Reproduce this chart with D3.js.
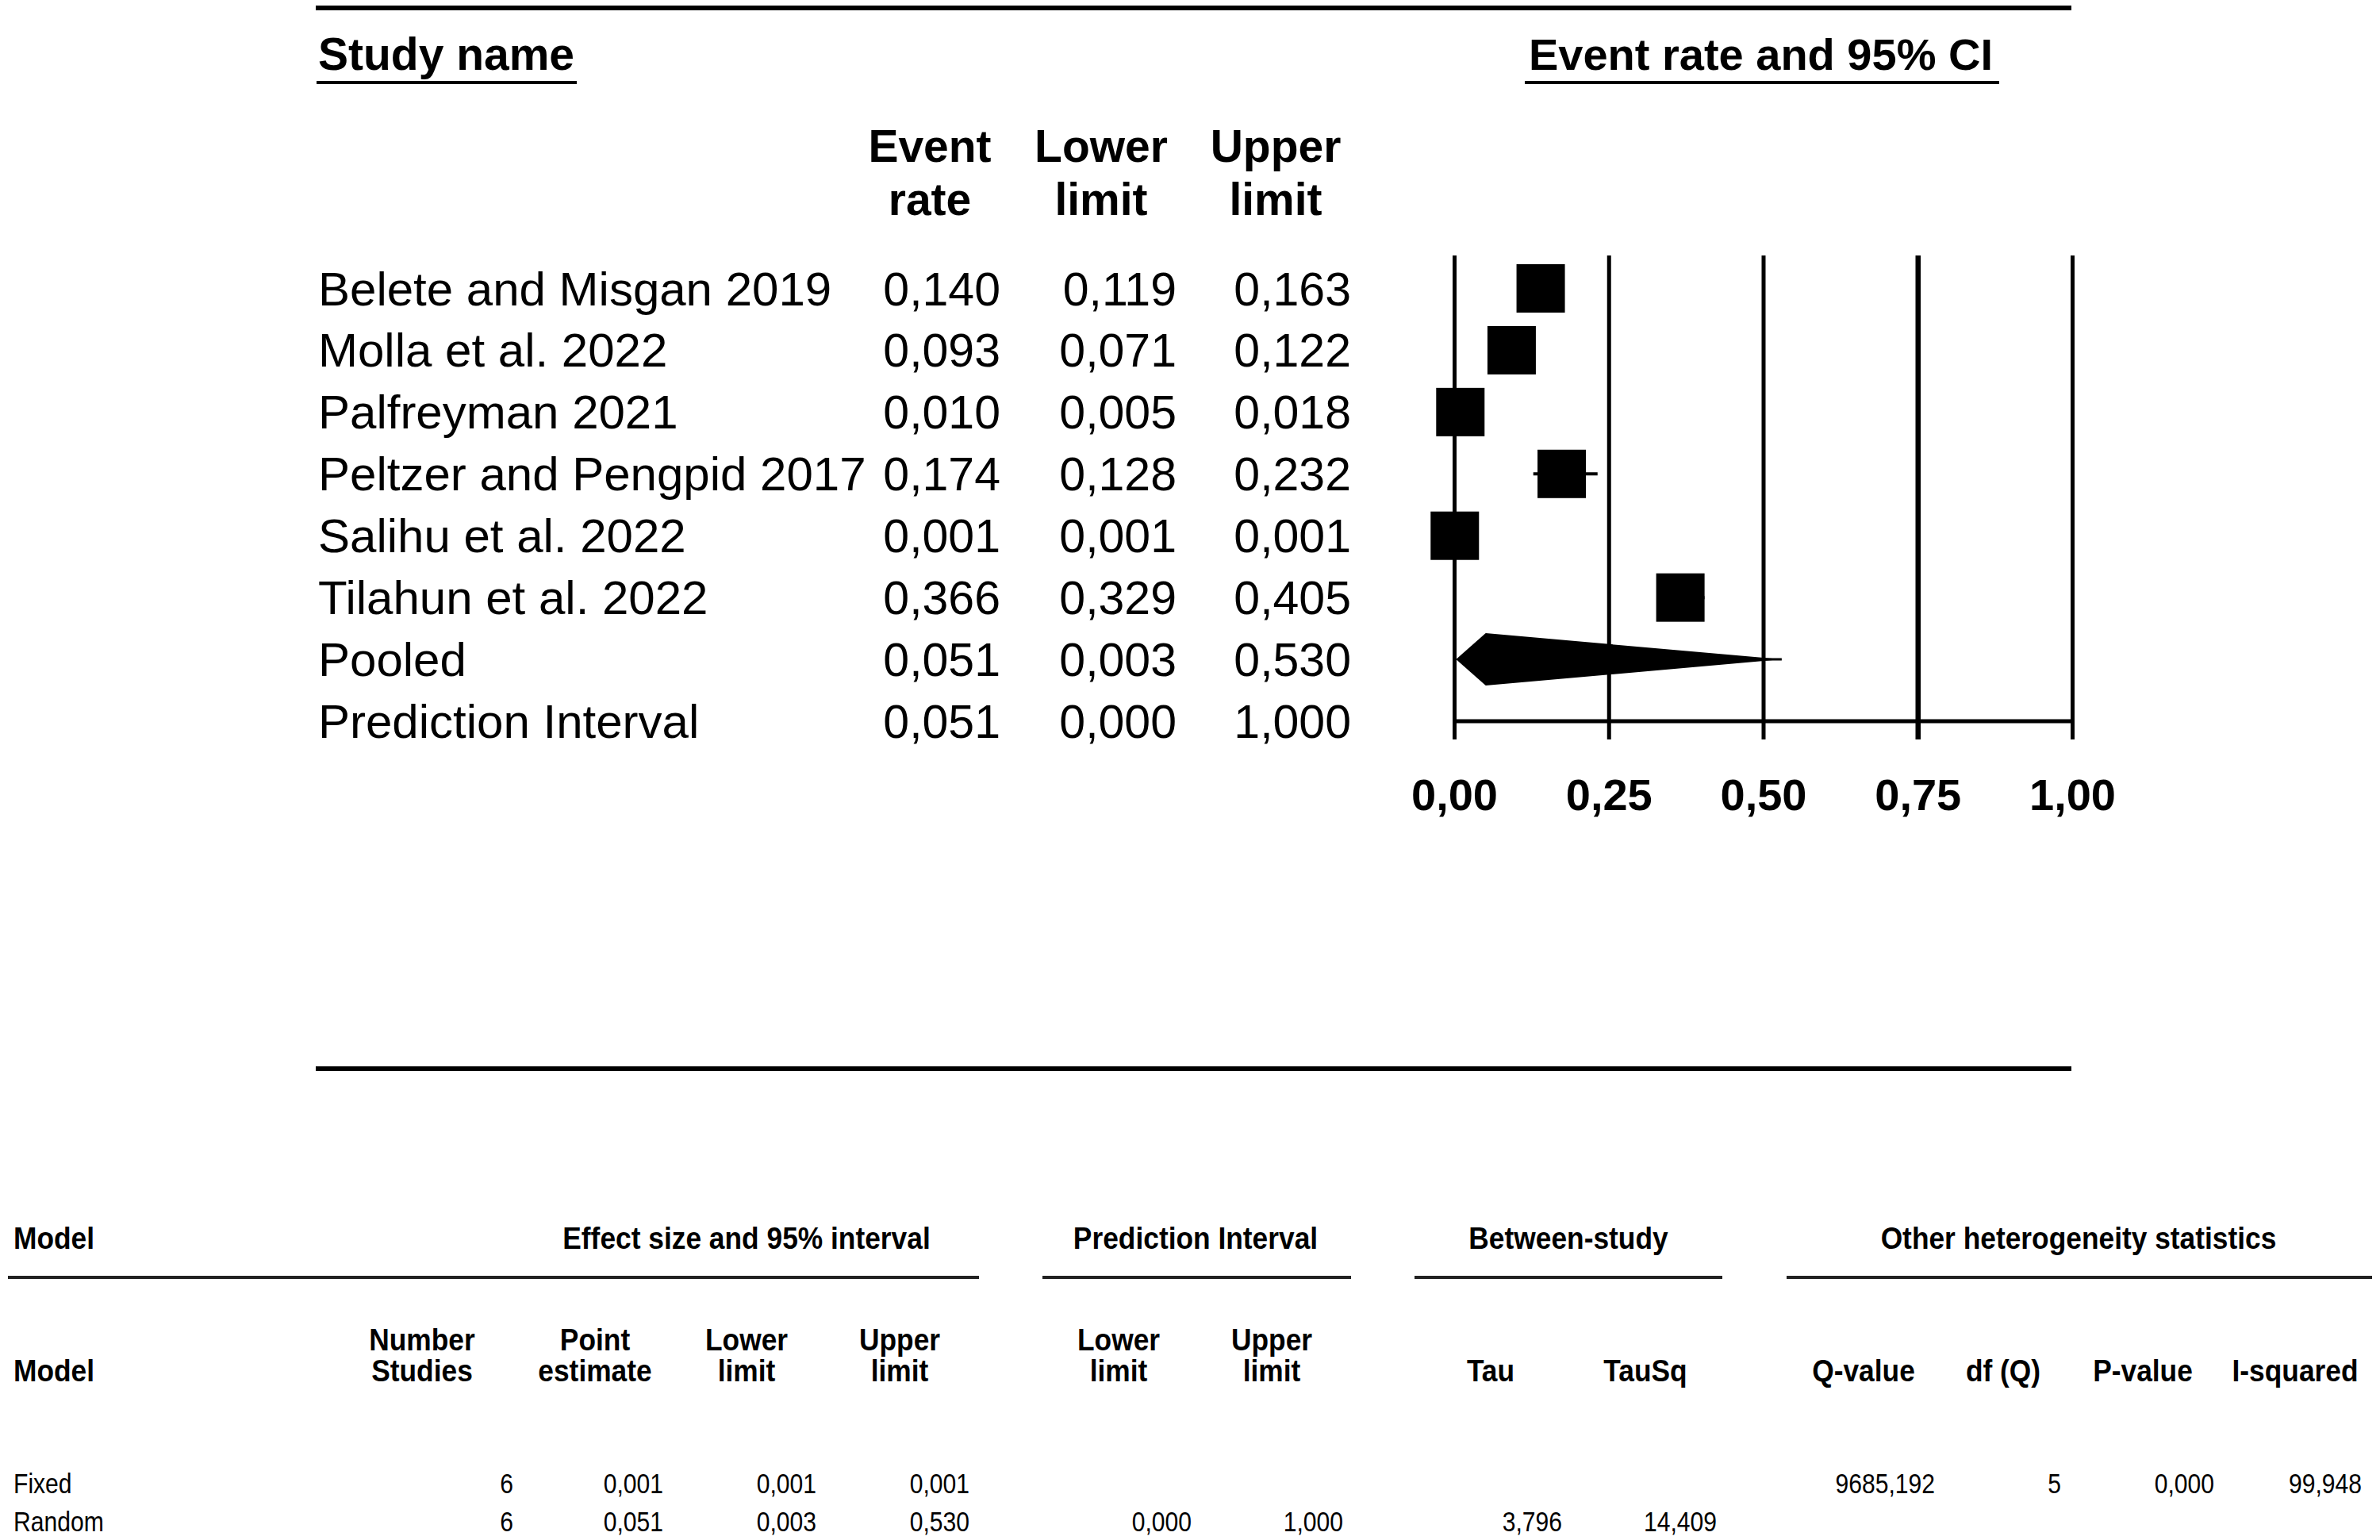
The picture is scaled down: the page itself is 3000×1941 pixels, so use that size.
<!DOCTYPE html>
<html><head><meta charset="utf-8">
<script src="https://cdn.jsdelivr.net/npm/d3@7"></script>
<style>html,body{margin:0;padding:0;background:#fff;} svg{display:block}</style>
</head><body>
<script>
// ---------- Data ----------
const studies = ["Belete and Misgan 2019","Molla et al. 2022","Palfreyman 2021","Peltzer and Pengpid 2017","Salihu et al. 2022","Tilahun et al. 2022"];
const eventRate  = [0.140, 0.093, 0.010, 0.174, 0.001, 0.366];
const lowerLimit = [0.119, 0.071, 0.005, 0.128, 0.001, 0.329];
const upperLimit = [0.163, 0.122, 0.018, 0.232, 0.001, 0.405];
const pooled     = {name:"Pooled", rate:0.051, lo:0.003, hi:0.530};
const prediction = {name:"Prediction Interval", rate:0.051, lo:0.000, hi:1.000};
const axisTicks  = [0, 0.25, 0.5, 0.75, 1];

const modelNames     = ["Fixed","Random"];
const numberStudies  = [6, 6];
const pointEstimate  = [0.001, 0.051];
const modelLower     = [0.001, 0.003];
const modelUpper     = [0.001, 0.530];
const predLower      = [null, 0.000];
const predUpper      = [null, 1.000];
const tauVals        = [null, 3.796];
const tauSqVals      = [null, 14.409];
const qValues        = [9685.192, null];
const dfQ            = [5, null];
const pValues        = [0.000, null];
const iSquared       = [99.948, null];

// ---------- Setup ----------
const W = 3000, H = 1941;
const FONT = "'Liberation Sans', Arial, Helvetica, sans-serif";
const loc = d3.formatLocale({decimal:",", thousands:"", grouping:[3], currency:["",""]});
const f3 = loc.format(".3f"), f2 = loc.format(".2f"), fd = loc.format("d");

const svg = d3.select("body").append("svg").attr("width", W).attr("height", H)
  .style("font-family", FONT);
svg.append("rect").attr("width", W).attr("height", H).attr("fill", "#fff");

// ---------- Top part ----------
svg.append("line").attr("x1", 398).attr("x2", 2611).attr("y1", 10).attr("y2", 10)
  .attr("stroke", "#000").attr("stroke-width", 6);

svg.append("text").attr("x", 401).attr("y", 88).attr("font-size", 57).attr("font-weight", "bold")
  .text("Study name");
svg.append("line").attr("x1", 399).attr("x2", 727).attr("y1", 104).attr("y2", 104)
  .attr("stroke", "#000").attr("stroke-width", 4);

svg.append("text").attr("x", 2512).attr("y", 88).attr("font-size", 56).attr("font-weight", "bold")
  .attr("text-anchor", "end").text("Event rate and 95% CI");
svg.append("line").attr("x1", 1922).attr("x2", 2520).attr("y1", 104).attr("y2", 104)
  .attr("stroke", "#000").attr("stroke-width", 4);

const colHeads = [["Event","rate",1172],["Lower","limit",1388],["Upper","limit",1608]];
colHeads.forEach(c => {
  const t = svg.append("text").attr("font-size", 57).attr("font-weight", "bold").attr("text-anchor", "middle");
  t.append("tspan").attr("x", c[2]).attr("y", 204).text(c[0]);
  t.append("tspan").attr("x", c[2]).attr("y", 271).text(c[1]);
});

// rows
const rows = studies.map((s,i) => ({name:s, rate:eventRate[i], lo:lowerLimit[i], hi:upperLimit[i], type:"study"}))
  .concat([Object.assign({type:"pooled"}, pooled), Object.assign({type:"pred"}, prediction)]);
const y = d3.scalePoint().domain(d3.range(rows.length)).range([363.5, 909]);
const x = d3.scaleLinear().domain([0, 1]).range([1833, 2612]);

const rowG = svg.append("g");
rows.forEach((r,i) => {
  const yb = y(i) + 21;
  rowG.append("text").attr("x", 401).attr("y", yb).attr("font-size", 60).text(r.name);
  rowG.append("text").attr("x", 1261).attr("y", yb).attr("font-size", 59).attr("text-anchor", "end").text(f3(r.rate));
  rowG.append("text").attr("x", 1483).attr("y", yb).attr("font-size", 59).attr("text-anchor", "end").text(f3(r.lo));
  rowG.append("text").attr("x", 1703).attr("y", yb).attr("font-size", 59).attr("text-anchor", "end").text(f3(r.hi));
});

// axis with gridlines
const axisY = 932, gridTop = 322;
const ax = svg.append("g").attr("transform", `translate(0,${axisY})`)
  .call(d3.axisBottom(x).tickValues(axisTicks).tickFormat(f2).tickSizeInner(-(axisY - gridTop)).tickSizeOuter(0));
ax.select(".domain").remove();
ax.selectAll(".tick line").attr("stroke", "#000").attr("stroke-width", (d) => d === 0.75 ? 6.5 : 5);
ax.selectAll(".tick text").attr("y", 1021 - axisY).attr("dy", null).attr("fill", "#000")
  .attr("font-size", 56).attr("font-weight", "bold").attr("font-family", FONT);

// marks
const markG = svg.append("g");
const SQ = 61, DH = 33;
rows.forEach((r,i) => {
  const cy = y(i);
  if (r.type === "study") {
    markG.append("line").attr("x1", x(r.lo)).attr("x2", x(r.hi)).attr("y1", cy).attr("y2", cy)
      .attr("stroke", "#000").attr("stroke-width", 4);
    markG.append("rect").attr("x", x(r.rate) - SQ/2).attr("y", cy - SQ/2)
      .attr("width", SQ).attr("height", SQ).attr("fill", "#000");
  } else if (r.type === "pooled") {
    const pts = [[x(r.lo), cy], [x(r.rate), cy - DH], [x(r.hi), cy], [x(r.rate), cy + DH]];
    markG.append("path").attr("d", d3.line()(pts) + "Z").attr("fill", "#000");
    markG.append("line").attr("x1", x(r.rate)).attr("x2", x(r.hi)).attr("y1", cy).attr("y2", cy)
      .attr("stroke", "#000").attr("stroke-width", 3);
  } else {
    markG.append("line").attr("x1", x(r.lo)).attr("x2", x(r.hi)).attr("y1", cy).attr("y2", cy)
      .attr("stroke", "#000").attr("stroke-width", 5);
  }
});

// separator
svg.append("line").attr("x1", 398).attr("x2", 2611).attr("y1", 1347).attr("y2", 1347)
  .attr("stroke", "#000").attr("stroke-width", 6);

// ---------- Bottom table ----------
const SX = 0.92;
function txt(xp, yp, s, opts) {
  opts = opts || {};
  svg.append("text")
    .attr("transform", `translate(${xp},${yp}) scale(${opts.sx || SX},1)`)
    .attr("font-size", opts.size || 36)
    .attr("font-weight", opts.bold ? "bold" : "normal")
    .attr("text-anchor", opts.anchor || "start")
    .attr("fill", "#000")
    .text(s);
}
const HB = {bold:true, size:38, sx:0.93};
const HBm = {bold:true, size:38, sx:0.93, anchor:"middle"};

txt(17, 1574, "Model", HB);
txt(941, 1574, "Effect size and 95% interval", HBm);
txt(1507, 1574, "Prediction Interval", HBm);
txt(1977, 1574, "Between-study", HBm);
txt(2620, 1574, "Other heterogeneity statistics", HBm);

[[10,1234],[1314,1703],[1783,2171],[2252,2990]].forEach(s => {
  svg.append("line").attr("x1", s[0]).attr("x2", s[1]).attr("y1", 1610).attr("y2", 1610)
    .attr("stroke", "#222").attr("stroke-width", 4);
});

txt(17, 1741, "Model", HB);
const subHeads = [
  ["Number","Studies",532],["Point","estimate",750],["Lower","limit",941],["Upper","limit",1134],
  ["Lower","limit",1410],["Upper","limit",1603],
  [null,"Tau",1879],[null,"TauSq",2074],
  [null,"Q-value",2349],[null,"df (Q)",2525],[null,"P-value",2701],[null,"I-squared",2893]
];
subHeads.forEach(h => {
  if (h[0]) txt(h[2], 1702, h[0], HBm);
  txt(h[2], 1741, h[1], HBm);
});

const valCols = [
  [numberStudies, 647, fd], [pointEstimate, 836, f3], [modelLower, 1029, f3], [modelUpper, 1222, f3],
  [predLower, 1502, f3], [predUpper, 1693, f3], [tauVals, 1969, f3], [tauSqVals, 2164, f3],
  [qValues, 2439, f3], [dfQ, 2598, fd], [pValues, 2791, f3], [iSquared, 2977, f3]
];
const rowY = [1882, 1930];
const VR = {size:35, sx:0.86, anchor:"end"};
modelNames.forEach((m,i) => {
  txt(17, rowY[i], m, {size:35, sx:0.86});
  valCols.forEach(c => {
    const v = c[0][i];
    if (v !== null && v !== undefined) txt(c[1], rowY[i], c[2](v), VR);
  });
});
</script>
</body></html>
